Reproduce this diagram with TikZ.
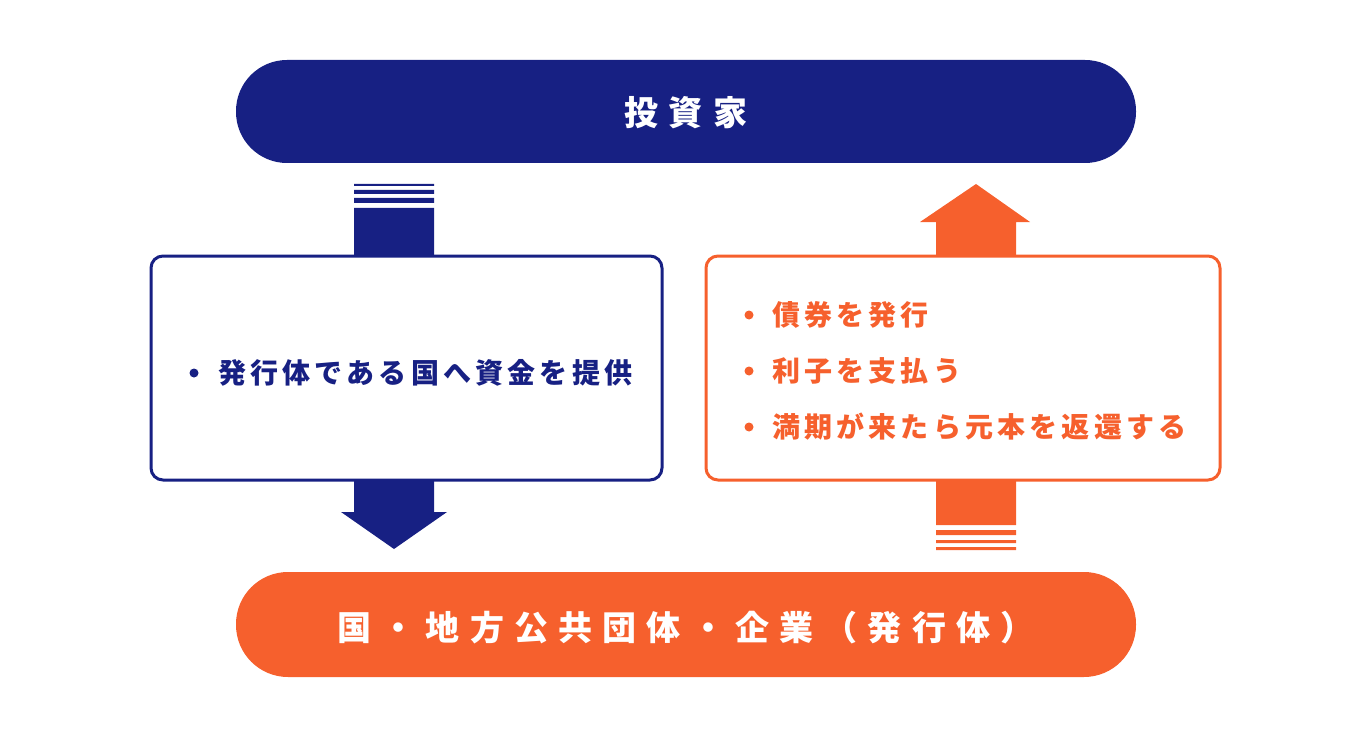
\documentclass[tikz,border=0pt]{standalone}
\usepackage{fontspec}
\newfontfamily\cjkwide{Noto Sans CJK JP}[LetterSpace=30]
\newfontfamily\cjkmid{Noto Sans CJK JP}[LetterSpace=15]
\definecolor{navy}{HTML}{172083}
\definecolor{orng}{HTML}{F6602D}
\begin{document}
\begin{tikzpicture}[x=1pt,y=-1pt,
  pill/.style={text=white,font=\cjkwide\bfseries\fontsize{34}{38}\selectfont},
  box/.style={rounded corners=12pt,line width=3pt,fill=white},
  itemn/.style={anchor=west,font=\cjkmid\bfseries\fontsize{28}{32}\selectfont,inner sep=0pt}]
  \useasboundingbox (0,0) rectangle (1370,738);
  % pills
  \fill[navy,rounded corners=51pt] (236,60) rectangle (1136,163);
  \node[pill] (inv) at (686,113) {投資家};
  \fill[orng,rounded corners=52pt] (236,572) rectangle (1136,677);
  \node[pill] (iss) at (686,628) {国・地方公共団体・企業（発行体）};
  % left arrow
  \fill[navy] (354,184) rectangle (434,186) (354,190) rectangle (434,194)
    (354,198) rectangle (434,203) (354,208) rectangle (434,258);
  \fill[navy] (354,478) -- (434,478) -- (434,512) -- (447,512) -- (394,549)
    -- (341,512) -- (354,512) -- cycle;
  % right arrow
  \fill[orng] (936,258) -- (936,222) -- (920,222) -- (976,184) -- (1030,222)
    -- (1016,222) -- (1016,258) -- cycle;
  \fill[orng] (936,478) rectangle (1016,525) (936,530) rectangle (1016,535)
    (936,540) rectangle (1016,543) (936,547) rectangle (1016,550);
  % boxes
  \draw[box,draw=navy] (151,256) rectangle (662,480);
  \draw[box,draw=orng] (706,256) rectangle (1220,480);
  \fill[navy] (194,373) circle (4.5pt);
  \node[itemn,text=navy] (l1) at (218,373) {発行体である国へ資金を提供};
  \foreach \y/\t [count=\i] in {315/債券を発行,371/利子を支払う,427/満期が来たら元本を返還する}{
    \fill[orng] (749,\y) circle (4.5pt);
    \node[itemn,text=orng] (r\i) at (772,\y) {\t};
  }
\end{tikzpicture}
\end{document}
